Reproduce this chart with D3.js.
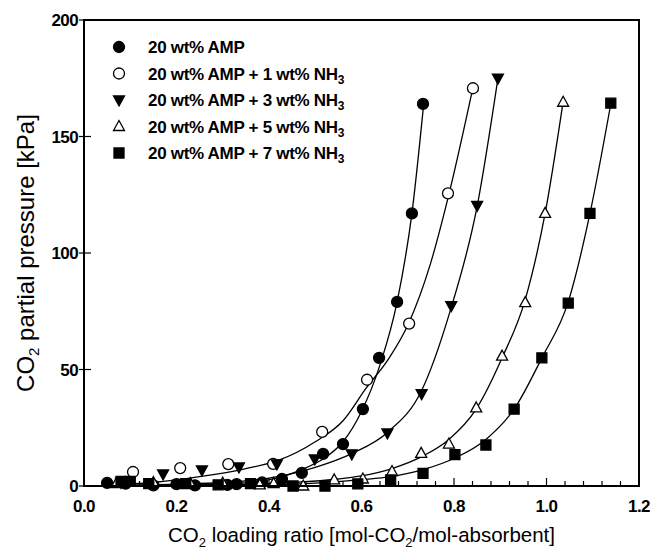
<!DOCTYPE html>
<html>
<head>
<meta charset="utf-8">
<script src="https://cdn.jsdelivr.net/npm/d3@7"></script>
<style>
  body { margin: 0; background: #fff; }
  svg text { font-family: "Liberation Sans", Arial, sans-serif; }
</style>
</head>
<body>
<div id="chart"></div>
<script>
// Measured points, one pair of arrays per solution
const ampX  = [0.05, 0.09, 0.15, 0.20, 0.24, 0.31, 0.33, 0.385, 0.428, 0.471, 0.517, 0.560, 0.603, 0.638, 0.677, 0.709, 0.733];
const ampY  = [1.3, 1.0, 0.3, 0.8, 0.3, 0.5, 0.8, 1.5, 3.0, 5.6, 13.8, 18, 33, 55, 79, 117, 164];
const nh1X  = [0.106, 0.208, 0.312, 0.409, 0.515, 0.612, 0.703, 0.787, 0.841];
const nh1Y  = [6.0, 7.7, 9.4, 9.5, 23.2, 45.6, 69.7, 125.6, 170.7];
const nh3X  = [0.08, 0.171, 0.255, 0.335, 0.417, 0.499, 0.579, 0.656, 0.730, 0.794, 0.850, 0.895];
const nh3Y  = [1.5, 5.2, 6.9, 8.2, 9.5, 11.6, 13.8, 22.8, 39.6, 77.4, 120.4, 175];
const nh5X  = [0.07, 0.15, 0.23, 0.30, 0.38, 0.41, 0.474, 0.541, 0.603, 0.666, 0.729, 0.789, 0.848, 0.904, 0.954, 0.997, 1.036];
const nh5Y  = [1.0, 1.5, 1.0, 1.2, 0.5, 1.0, 0.0, 2.6, 3.0, 6.2, 14, 18, 33.5, 55.7, 78.7, 117, 164.7];
const nh7X  = [0.08, 0.10, 0.14, 0.22, 0.29, 0.36, 0.452, 0.521, 0.592, 0.663, 0.733, 0.802, 0.869, 0.930, 0.990, 1.047, 1.094, 1.139];
const nh7Y  = [2.0, 2.0, 1.0, 1.0, 0.5, 1.0, 0.0, 0.0, 0.9, 2.6, 5.4, 13.5, 17.6, 33, 55, 78.5, 117, 164.3];

// Fitted curves
const fitAmpX = [0.05, 0.2, 0.3, 0.38, 0.43, 0.47, 0.52, 0.56, 0.60, 0.64, 0.677, 0.709, 0.735];
const fitAmpY = [0.0, 0.3, 0.8, 2.0, 4.0, 7.0, 12, 19, 32, 52, 79, 117, 165];
const fit1X   = [0.05, 0.15, 0.25, 0.35, 0.42, 0.50, 0.56, 0.61, 0.66, 0.70, 0.75, 0.79, 0.841];
const fit1Y   = [0.5, 1.5, 4.0, 7.5, 11, 19, 28, 42, 55, 69, 96, 126, 171];
const fit3X   = [0.05, 0.2, 0.3, 0.4, 0.5, 0.58, 0.656, 0.73, 0.79, 0.85, 0.895];
const fit3Y   = [0.3, 0.8, 1.5, 3.4, 8.0, 14, 23, 41, 74, 120, 175];
const fit5X   = [0.05, 0.3, 0.45, 0.55, 0.6, 0.666, 0.729, 0.789, 0.848, 0.904, 0.954, 0.997, 1.036];
const fit5Y   = [0.0, 0.5, 1.5, 3.0, 4.3, 7.5, 12.5, 20, 33, 55, 80, 117, 165];
const fit7X   = [0.05, 0.35, 0.5, 0.6, 0.663, 0.733, 0.802, 0.869, 0.930, 0.990, 1.047, 1.094, 1.139];
const fit7Y   = [0.0, 0.3, 1.2, 2.7, 4.0, 7.0, 12, 20, 33, 55, 79, 117, 164];

const legendNames = ['20 wt% AMP', '20 wt% AMP + 1 wt% NH', '20 wt% AMP + 3 wt% NH', '20 wt% AMP + 5 wt% NH', '20 wt% AMP + 7 wt% NH'];
const xTicks = [0, 0.2, 0.4, 0.6, 0.8, 1.0, 1.2];
const yTicks = [0, 50, 100, 150, 200];

const series = [
    { xs: ampX, ys: ampY, fx: fitAmpX, fy: fitAmpY, sym: 'circle', fill: '#000', sub: '' },
    { xs: nh1X, ys: nh1Y, fx: fit1X, fy: fit1Y, sym: 'circle', fill: '#fff', sub: '3' },
    { xs: nh3X, ys: nh3Y, fx: fit3X, fy: fit3Y, sym: 'down', fill: '#000', sub: '3' },
    { xs: nh5X, ys: nh5Y, fx: fit5X, fy: fit5Y, sym: 'up', fill: '#fff', sub: '3' },
    { xs: nh7X, ys: nh7Y, fx: fit7X, fy: fit7Y, sym: 'square', fill: '#000', sub: '3' }
];

const width = 650, height = 551;
const margin = { top: 20, right: 11, bottom: 65, left: 84 };

const svg = d3.select('#chart').append('svg')
    .attr('width', width)
    .attr('height', height);

const x = d3.scaleLinear().domain([0, 1.2]).range([margin.left, width - margin.right]);
const y = d3.scaleLinear().domain([0, 200]).range([height - margin.bottom, margin.top]);

// Marker paths
function markerPath(sym) {
    if (sym === 'circle') return d3.symbol(d3.symbolCircle, 95)();
    if (sym === 'square') return 'M-5,-5H5V5H-5Z';
    if (sym === 'up') return 'M0,-6L5.5,4L-5.5,4Z';
    return 'M0,6L5.5,-4L-5.5,-4Z';
}

// Minor x ticks (inward)
const xMinor = d3.range(0, 1.2001, 0.04);
svg.append('g').selectAll('line').data(xMinor).enter().append('line')
    .attr('x1', d => x(d)).attr('x2', d => x(d))
    .attr('y1', y(0)).attr('y2', d => y(0) - (xTicks.some(t => Math.abs(t - d) < 1e-6) ? 8 : 5))
    .attr('stroke', '#000').attr('stroke-width', 1.2);

// Y ticks (crossing the axis)
svg.append('g').selectAll('line').data(yTicks).enter().append('line')
    .attr('x1', x(0) - 5).attr('x2', x(0) + 7)
    .attr('y1', d => y(d)).attr('y2', d => y(d))
    .attr('stroke', '#000').attr('stroke-width', 1.2);

// Tick labels
svg.append('g').selectAll('text').data(xTicks).enter().append('text')
    .attr('x', d => x(d)).attr('y', y(0) + 26)
    .attr('text-anchor', 'middle')
    .attr('font-size', 17).attr('font-weight', 'bold').attr('letter-spacing', -0.6)
    .text(d => d3.format('.1f')(d));

svg.append('g').selectAll('text').data(yTicks).enter().append('text')
    .attr('x', x(0) - 6).attr('y', d => y(d) + 6)
    .attr('text-anchor', 'end')
    .attr('font-size', 17).attr('font-weight', 'bold').attr('letter-spacing', -0.6)
    .text(d => d);

// Fitted curves
const line = d3.line().x(d => x(d[0])).y(d => y(d[1])).curve(d3.curveMonotoneX);
series.forEach(s => {
    svg.append('path')
        .attr('d', line(d3.zip(s.fx, s.fy)))
        .attr('fill', 'none').attr('stroke', '#000').attr('stroke-width', 1.3);
});

// Data points
series.forEach(s => {
    svg.append('g').selectAll('path').data(d3.zip(s.xs, s.ys)).enter().append('path')
        .attr('d', markerPath(s.sym))
        .attr('transform', d => `translate(${x(d[0])},${y(d[1])})`)
        .attr('fill', s.fill).attr('stroke', '#000').attr('stroke-width', 1.3);
});

// Frame
svg.append('rect')
    .attr('x', x(0)).attr('y', y(200))
    .attr('width', x(1.2) - x(0)).attr('height', y(0) - y(200))
    .attr('fill', 'none').attr('stroke', '#000').attr('stroke-width', 2);

// Legend
const legend = svg.append('g');
series.forEach((s, i) => {
    const ly = 47 + i * 26.5;
    legend.append('path')
        .attr('d', markerPath(s.sym))
        .attr('transform', `translate(119,${ly})`)
        .attr('fill', s.fill).attr('stroke', '#000').attr('stroke-width', 1.3);
    const t = legend.append('text')
        .attr('x', 148).attr('y', ly + 6)
        .attr('font-size', 17).attr('font-weight', 'bold').attr('letter-spacing', -0.3);
    t.append('tspan').text(legendNames[i]);
    if (s.sub) t.append('tspan').attr('dy', 4).attr('font-size', 12).text(s.sub);
});

// Axis titles
const xt = svg.append('text')
    .attr('x', (x(0) + x(1.2)) / 2).attr('y', 542)
    .attr('text-anchor', 'middle')
    .attr('font-size', 20.5);
xt.append('tspan').text('CO');
xt.append('tspan').attr('dy', 5).attr('font-size', 13).text('2');
xt.append('tspan').attr('dy', -5).text(' loading ratio [mol-CO');
xt.append('tspan').attr('dy', 5).attr('font-size', 13).text('2');
xt.append('tspan').attr('dy', -5).text('/mol-absorbent]');

const yt = svg.append('text')
    .attr('transform', `translate(34,${(y(0) + y(200)) / 2}) rotate(-90)`)
    .attr('text-anchor', 'middle')
    .attr('font-size', 24);
yt.append('tspan').text('CO');
yt.append('tspan').attr('dy', 5).attr('font-size', 15).text('2');
yt.append('tspan').attr('dy', -5).text(' partial pressure [kPa]');
</script>
</body>
</html>
